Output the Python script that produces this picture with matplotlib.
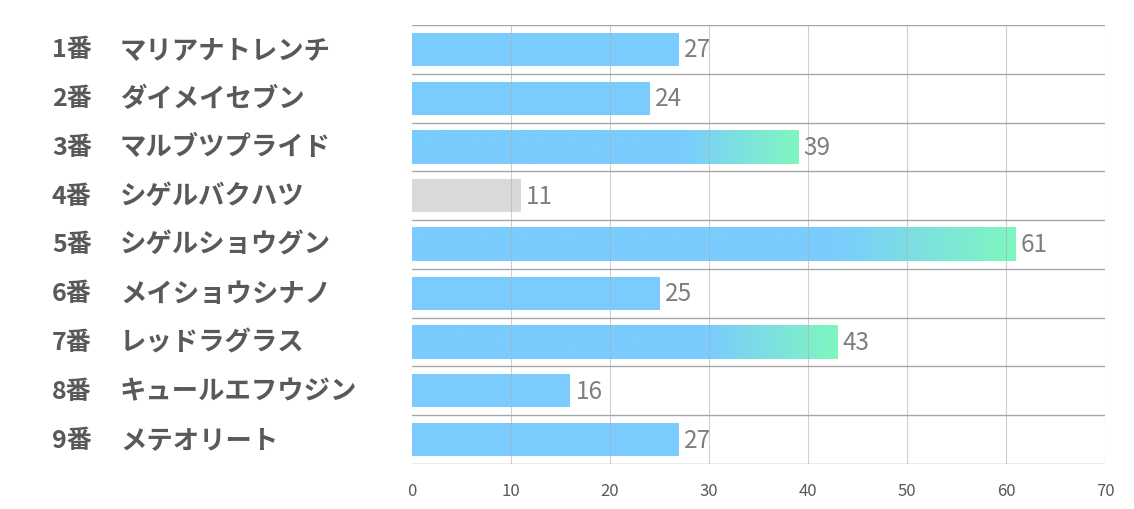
import numpy as np
import matplotlib
matplotlib.use('Agg')
import matplotlib.pyplot as plt
from matplotlib.colors import LinearSegmentedColormap

plt.rcParams['font.family'] = ['Noto Sans CJK JP', 'DejaVu Sans']

numbers = ['1番', '2番', '3番', '4番', '5番', '6番', '7番', '8番', '9番']
horses = ['マリアナトレンチ', 'ダイメイセブン', 'マルブツプライド', 'シゲルバクハツ',
          'シゲルショウグン', 'メイショウシナノ', 'レッドラグラス', 'キュールエフウジン',
          'メテオリート']
values = [27, 24, 39, 11, 61, 25, 43, 16, 27]
x_ticks = [0, 10, 20, 30, 40, 50, 60, 70]

BLUE = '#7accfe'
GREEN = '#7ff7bf'
GREY = '#d9d9d9'
grad = LinearSegmentedColormap.from_list('bg', [(0, BLUE), (0.7, BLUE), (1, GREEN)])

fig = plt.figure(figsize=(11.34, 5.10), dpi=100)
ax = fig.add_axes([412 / 1134, 45 / 510, 693 / 1134, 439 / 510])

n = len(values)
top3 = sorted(range(n), key=lambda i: values[i], reverse=True)[:3]
lowest = values.index(min(values))
bar_h = 0.68
gradient = np.linspace(0, 1, 256).reshape(1, -1)

for i, v in enumerate(values):
    y = i
    if i in top3:
        ax.imshow(gradient, cmap=grad, aspect='auto', zorder=1,
                  extent=(0, v, y + bar_h / 2, y - bar_h / 2), interpolation='bilinear')
    else:
        ax.barh(y, v, height=bar_h, color=GREY if i == lowest else BLUE, zorder=1)
    ax.annotate(str(v), xy=(v, y), xytext=(5, 0), textcoords='offset pixels',
                va='center', ha='left', fontsize=17.5, color='#7f7f7f')

ax.set_xlim(0, 70)
ax.set_ylim(n - 0.5, -0.5)

for xv in x_ticks[1:]:
    ax.axvline(xv, color='#b0b0b0', lw=0.8, alpha=0.6, zorder=2)
for k in range(n + 1):
    ax.axhline(k - 0.5, color='#a6a6a6', lw=1.0, zorder=2)

ax.set_xticks(x_ticks)
ax.set_yticks([])
ax.tick_params(axis='x', length=0, labelsize=12, labelcolor='#595959', pad=13)
for s in ax.spines.values():
    s.set_visible(False)

# category labels
for i in range(n):
    ax.annotate(numbers[i], xy=(0, i), xycoords=('figure fraction', 'data'),
                xytext=(52, 0), textcoords='offset pixels', va='center', ha='left',
                fontsize=18, fontweight='bold', color='#595959')
    ax.annotate(horses[i], xy=(0, i), xycoords=('figure fraction', 'data'),
                xytext=(120, 0), textcoords='offset pixels', va='center', ha='left',
                fontsize=19, fontweight='bold', color='#595959')

fig.savefig('out.png', dpi=100, facecolor='white')
